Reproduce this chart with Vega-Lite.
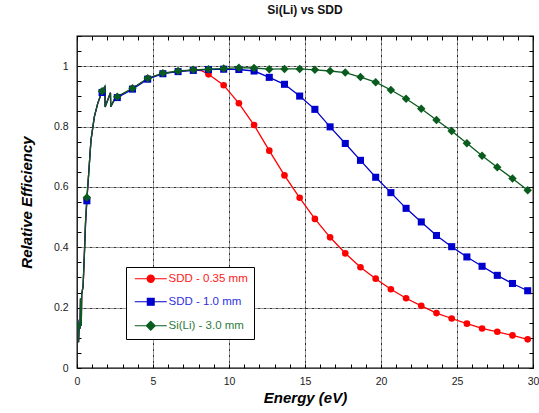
{
  "$schema": "https://vega.github.io/schema/vega-lite/v6.json",
  "width": 456,
  "height": 332,
  "autosize": "none",
  "padding": {"left": 77, "top": 36, "right": 6, "bottom": 45},
  "title": {"text": "Si(Li) vs SDD", "fontSize": 12, "fontWeight": "bold", "font": "Liberation Sans", "offset": 14, "color": "#111"},
  "config": {
    "font": "Liberation Sans",
    "view": {"stroke": "#000", "strokeWidth": 1.3}
  },
  "data": {"values": [
    {"s": "SDD - 0.35 mm", "x": 0.05, "y": 0.16, "m": 0},
    {"s": "SDD - 0.35 mm", "x": 0.1, "y": 0.085, "m": 0},
    {"s": "SDD - 0.35 mm", "x": 0.15, "y": 0.15, "m": 0},
    {"s": "SDD - 0.35 mm", "x": 0.2, "y": 0.13, "m": 0},
    {"s": "SDD - 0.35 mm", "x": 0.23, "y": 0.23, "m": 0},
    {"s": "SDD - 0.35 mm", "x": 0.28, "y": 0.14, "m": 0},
    {"s": "SDD - 0.35 mm", "x": 0.31, "y": 0.245, "m": 0},
    {"s": "SDD - 0.35 mm", "x": 0.4, "y": 0.27, "m": 0},
    {"s": "SDD - 0.35 mm", "x": 0.48, "y": 0.37, "m": 0},
    {"s": "SDD - 0.35 mm", "x": 0.56, "y": 0.48, "m": 0},
    {"s": "SDD - 0.35 mm", "x": 0.65, "y": 0.56, "m": 1},
    {"s": "SDD - 0.35 mm", "x": 0.77, "y": 0.645, "m": 0},
    {"s": "SDD - 0.35 mm", "x": 0.92, "y": 0.755, "m": 0},
    {"s": "SDD - 0.35 mm", "x": 1.14, "y": 0.832, "m": 0},
    {"s": "SDD - 0.35 mm", "x": 1.36, "y": 0.876, "m": 0},
    {"s": "SDD - 0.35 mm", "x": 1.55, "y": 0.903, "m": 0},
    {"s": "SDD - 0.35 mm", "x": 1.65, "y": 0.915, "m": 1},
    {"s": "SDD - 0.35 mm", "x": 1.84, "y": 0.934, "m": 0},
    {"s": "SDD - 0.35 mm", "x": 1.85, "y": 0.865, "m": 0},
    {"s": "SDD - 0.35 mm", "x": 2.2, "y": 0.912, "m": 0},
    {"s": "SDD - 0.35 mm", "x": 2.22, "y": 0.866, "m": 0},
    {"s": "SDD - 0.35 mm", "x": 2.5, "y": 0.893, "m": 0},
    {"s": "SDD - 0.35 mm", "x": 2.65, "y": 0.898, "m": 1},
    {"s": "SDD - 0.35 mm", "x": 3.65, "y": 0.926, "m": 1},
    {"s": "SDD - 0.35 mm", "x": 4.65, "y": 0.959, "m": 1},
    {"s": "SDD - 0.35 mm", "x": 5.65, "y": 0.976, "m": 1},
    {"s": "SDD - 0.35 mm", "x": 6.65, "y": 0.983, "m": 1},
    {"s": "SDD - 0.35 mm", "x": 7.65, "y": 0.987, "m": 1},
    {"s": "SDD - 0.35 mm", "x": 8.2, "y": 0.985, "m": 0},
    {"s": "SDD - 0.35 mm", "x": 8.65, "y": 0.973, "m": 1},
    {"s": "SDD - 0.35 mm", "x": 9.65, "y": 0.937, "m": 1},
    {"s": "SDD - 0.35 mm", "x": 10.65, "y": 0.877, "m": 1},
    {"s": "SDD - 0.35 mm", "x": 11.65, "y": 0.805, "m": 1},
    {"s": "SDD - 0.35 mm", "x": 12.65, "y": 0.72, "m": 1},
    {"s": "SDD - 0.35 mm", "x": 13.65, "y": 0.638, "m": 1},
    {"s": "SDD - 0.35 mm", "x": 14.65, "y": 0.564, "m": 1},
    {"s": "SDD - 0.35 mm", "x": 15.65, "y": 0.494, "m": 1},
    {"s": "SDD - 0.35 mm", "x": 16.65, "y": 0.433, "m": 1},
    {"s": "SDD - 0.35 mm", "x": 17.65, "y": 0.38, "m": 1},
    {"s": "SDD - 0.35 mm", "x": 18.65, "y": 0.334, "m": 1},
    {"s": "SDD - 0.35 mm", "x": 19.65, "y": 0.296, "m": 1},
    {"s": "SDD - 0.35 mm", "x": 20.65, "y": 0.261, "m": 1},
    {"s": "SDD - 0.35 mm", "x": 21.65, "y": 0.231, "m": 1},
    {"s": "SDD - 0.35 mm", "x": 22.65, "y": 0.206, "m": 1},
    {"s": "SDD - 0.35 mm", "x": 23.65, "y": 0.182, "m": 1},
    {"s": "SDD - 0.35 mm", "x": 24.65, "y": 0.164, "m": 1},
    {"s": "SDD - 0.35 mm", "x": 25.65, "y": 0.147, "m": 1},
    {"s": "SDD - 0.35 mm", "x": 26.65, "y": 0.131, "m": 1},
    {"s": "SDD - 0.35 mm", "x": 27.65, "y": 0.12, "m": 1},
    {"s": "SDD - 0.35 mm", "x": 28.65, "y": 0.108, "m": 1},
    {"s": "SDD - 0.35 mm", "x": 29.65, "y": 0.095, "m": 1},

    {"s": "SDD - 1.0 mm", "x": 0.05, "y": 0.16, "m": 0},
    {"s": "SDD - 1.0 mm", "x": 0.1, "y": 0.085, "m": 0},
    {"s": "SDD - 1.0 mm", "x": 0.15, "y": 0.15, "m": 0},
    {"s": "SDD - 1.0 mm", "x": 0.2, "y": 0.13, "m": 0},
    {"s": "SDD - 1.0 mm", "x": 0.23, "y": 0.23, "m": 0},
    {"s": "SDD - 1.0 mm", "x": 0.28, "y": 0.14, "m": 0},
    {"s": "SDD - 1.0 mm", "x": 0.31, "y": 0.245, "m": 0},
    {"s": "SDD - 1.0 mm", "x": 0.4, "y": 0.27, "m": 0},
    {"s": "SDD - 1.0 mm", "x": 0.48, "y": 0.37, "m": 0},
    {"s": "SDD - 1.0 mm", "x": 0.56, "y": 0.475, "m": 0},
    {"s": "SDD - 1.0 mm", "x": 0.65, "y": 0.554, "m": 1},
    {"s": "SDD - 1.0 mm", "x": 0.77, "y": 0.645, "m": 0},
    {"s": "SDD - 1.0 mm", "x": 0.92, "y": 0.755, "m": 0},
    {"s": "SDD - 1.0 mm", "x": 1.14, "y": 0.832, "m": 0},
    {"s": "SDD - 1.0 mm", "x": 1.36, "y": 0.876, "m": 0},
    {"s": "SDD - 1.0 mm", "x": 1.55, "y": 0.903, "m": 0},
    {"s": "SDD - 1.0 mm", "x": 1.65, "y": 0.913, "m": 1},
    {"s": "SDD - 1.0 mm", "x": 1.84, "y": 0.934, "m": 0},
    {"s": "SDD - 1.0 mm", "x": 1.85, "y": 0.865, "m": 0},
    {"s": "SDD - 1.0 mm", "x": 2.2, "y": 0.912, "m": 0},
    {"s": "SDD - 1.0 mm", "x": 2.22, "y": 0.866, "m": 0},
    {"s": "SDD - 1.0 mm", "x": 2.5, "y": 0.893, "m": 0},
    {"s": "SDD - 1.0 mm", "x": 2.65, "y": 0.896, "m": 1},
    {"s": "SDD - 1.0 mm", "x": 3.65, "y": 0.924, "m": 1},
    {"s": "SDD - 1.0 mm", "x": 4.65, "y": 0.957, "m": 1},
    {"s": "SDD - 1.0 mm", "x": 5.65, "y": 0.975, "m": 1},
    {"s": "SDD - 1.0 mm", "x": 6.65, "y": 0.982, "m": 1},
    {"s": "SDD - 1.0 mm", "x": 7.65, "y": 0.986, "m": 1},
    {"s": "SDD - 1.0 mm", "x": 8.65, "y": 0.989, "m": 1},
    {"s": "SDD - 1.0 mm", "x": 9.65, "y": 0.99, "m": 1},
    {"s": "SDD - 1.0 mm", "x": 10.65, "y": 0.989, "m": 1},
    {"s": "SDD - 1.0 mm", "x": 11.65, "y": 0.984, "m": 1},
    {"s": "SDD - 1.0 mm", "x": 12.65, "y": 0.963, "m": 1},
    {"s": "SDD - 1.0 mm", "x": 13.65, "y": 0.94, "m": 1},
    {"s": "SDD - 1.0 mm", "x": 14.65, "y": 0.901, "m": 1},
    {"s": "SDD - 1.0 mm", "x": 15.65, "y": 0.857, "m": 1},
    {"s": "SDD - 1.0 mm", "x": 16.65, "y": 0.799, "m": 1},
    {"s": "SDD - 1.0 mm", "x": 17.65, "y": 0.744, "m": 1},
    {"s": "SDD - 1.0 mm", "x": 18.65, "y": 0.688, "m": 1},
    {"s": "SDD - 1.0 mm", "x": 19.65, "y": 0.632, "m": 1},
    {"s": "SDD - 1.0 mm", "x": 20.65, "y": 0.581, "m": 1},
    {"s": "SDD - 1.0 mm", "x": 21.65, "y": 0.529, "m": 1},
    {"s": "SDD - 1.0 mm", "x": 22.65, "y": 0.484, "m": 1},
    {"s": "SDD - 1.0 mm", "x": 23.65, "y": 0.439, "m": 1},
    {"s": "SDD - 1.0 mm", "x": 24.65, "y": 0.402, "m": 1},
    {"s": "SDD - 1.0 mm", "x": 25.65, "y": 0.368, "m": 1},
    {"s": "SDD - 1.0 mm", "x": 26.65, "y": 0.337, "m": 1},
    {"s": "SDD - 1.0 mm", "x": 27.65, "y": 0.307, "m": 1},
    {"s": "SDD - 1.0 mm", "x": 28.65, "y": 0.28, "m": 1},
    {"s": "SDD - 1.0 mm", "x": 29.65, "y": 0.256, "m": 1},

    {"s": "Si(Li) - 3.0 mm", "x": 0.05, "y": 0.16, "m": 0},
    {"s": "Si(Li) - 3.0 mm", "x": 0.1, "y": 0.085, "m": 0},
    {"s": "Si(Li) - 3.0 mm", "x": 0.15, "y": 0.15, "m": 0},
    {"s": "Si(Li) - 3.0 mm", "x": 0.2, "y": 0.13, "m": 0},
    {"s": "Si(Li) - 3.0 mm", "x": 0.23, "y": 0.23, "m": 0},
    {"s": "Si(Li) - 3.0 mm", "x": 0.28, "y": 0.14, "m": 0},
    {"s": "Si(Li) - 3.0 mm", "x": 0.31, "y": 0.245, "m": 0},
    {"s": "Si(Li) - 3.0 mm", "x": 0.4, "y": 0.27, "m": 0},
    {"s": "Si(Li) - 3.0 mm", "x": 0.48, "y": 0.37, "m": 0},
    {"s": "Si(Li) - 3.0 mm", "x": 0.56, "y": 0.485, "m": 0},
    {"s": "Si(Li) - 3.0 mm", "x": 0.65, "y": 0.565, "m": 1},
    {"s": "Si(Li) - 3.0 mm", "x": 0.77, "y": 0.645, "m": 0},
    {"s": "Si(Li) - 3.0 mm", "x": 0.92, "y": 0.755, "m": 0},
    {"s": "Si(Li) - 3.0 mm", "x": 1.14, "y": 0.832, "m": 0},
    {"s": "Si(Li) - 3.0 mm", "x": 1.36, "y": 0.876, "m": 0},
    {"s": "Si(Li) - 3.0 mm", "x": 1.55, "y": 0.903, "m": 0},
    {"s": "Si(Li) - 3.0 mm", "x": 1.65, "y": 0.917, "m": 1},
    {"s": "Si(Li) - 3.0 mm", "x": 1.84, "y": 0.934, "m": 0},
    {"s": "Si(Li) - 3.0 mm", "x": 1.85, "y": 0.865, "m": 0},
    {"s": "Si(Li) - 3.0 mm", "x": 2.2, "y": 0.912, "m": 0},
    {"s": "Si(Li) - 3.0 mm", "x": 2.22, "y": 0.866, "m": 0},
    {"s": "Si(Li) - 3.0 mm", "x": 2.5, "y": 0.893, "m": 0},
    {"s": "Si(Li) - 3.0 mm", "x": 2.65, "y": 0.899, "m": 1},
    {"s": "Si(Li) - 3.0 mm", "x": 3.65, "y": 0.927, "m": 1},
    {"s": "Si(Li) - 3.0 mm", "x": 4.65, "y": 0.96, "m": 1},
    {"s": "Si(Li) - 3.0 mm", "x": 5.65, "y": 0.977, "m": 1},
    {"s": "Si(Li) - 3.0 mm", "x": 6.65, "y": 0.984, "m": 1},
    {"s": "Si(Li) - 3.0 mm", "x": 7.65, "y": 0.988, "m": 1},
    {"s": "Si(Li) - 3.0 mm", "x": 8.65, "y": 0.99, "m": 1},
    {"s": "Si(Li) - 3.0 mm", "x": 9.65, "y": 0.992, "m": 1},
    {"s": "Si(Li) - 3.0 mm", "x": 10.65, "y": 0.995, "m": 1},
    {"s": "Si(Li) - 3.0 mm", "x": 11.65, "y": 0.994, "m": 1},
    {"s": "Si(Li) - 3.0 mm", "x": 12.65, "y": 0.99, "m": 1},
    {"s": "Si(Li) - 3.0 mm", "x": 13.65, "y": 0.991, "m": 1},
    {"s": "Si(Li) - 3.0 mm", "x": 14.65, "y": 0.991, "m": 1},
    {"s": "Si(Li) - 3.0 mm", "x": 15.65, "y": 0.988, "m": 1},
    {"s": "Si(Li) - 3.0 mm", "x": 16.65, "y": 0.984, "m": 1},
    {"s": "Si(Li) - 3.0 mm", "x": 17.65, "y": 0.979, "m": 1},
    {"s": "Si(Li) - 3.0 mm", "x": 18.65, "y": 0.964, "m": 1},
    {"s": "Si(Li) - 3.0 mm", "x": 19.65, "y": 0.947, "m": 1},
    {"s": "Si(Li) - 3.0 mm", "x": 20.65, "y": 0.921, "m": 1},
    {"s": "Si(Li) - 3.0 mm", "x": 21.65, "y": 0.892, "m": 1},
    {"s": "Si(Li) - 3.0 mm", "x": 22.65, "y": 0.859, "m": 1},
    {"s": "Si(Li) - 3.0 mm", "x": 23.65, "y": 0.822, "m": 1},
    {"s": "Si(Li) - 3.0 mm", "x": 24.65, "y": 0.785, "m": 1},
    {"s": "Si(Li) - 3.0 mm", "x": 25.65, "y": 0.745, "m": 1},
    {"s": "Si(Li) - 3.0 mm", "x": 26.65, "y": 0.703, "m": 1},
    {"s": "Si(Li) - 3.0 mm", "x": 27.65, "y": 0.665, "m": 1},
    {"s": "Si(Li) - 3.0 mm", "x": 28.65, "y": 0.628, "m": 1},
    {"s": "Si(Li) - 3.0 mm", "x": 29.65, "y": 0.589, "m": 1}
  ]},
  "layer": [
    {
      "mark": {"type": "line", "strokeWidth": 1.3},
      "encoding": {
        "x": {
          "field": "x", "type": "quantitative",
          "scale": {"domain": [0, 30], "nice": false, "zero": false},
          "axis": {
            "orient": "bottom",
            "values": [0,1,2,3,4,5,6,7,8,9,10,11,12,13,14,15,16,17,18,19,20,21,22,23,24,25,26,27,28,29,30],
            "tickSize": -4, "tickColor": "#000", "tickWidth": 1,
            "labelExpr": "datum.value % 5 === 0 ? datum.label : ''",
            "labelOverlap": false, "labelFlush": false, "labelBound": false,
            "labelFontSize": 10.5, "labelColor": "#222", "labelPadding": 12,
            "grid": true,
            "gridOpacity": {"condition": {"test": "datum.value % 5 === 0 && datum.value > 0 && datum.value < 30", "value": 1}, "value": 0},
            "gridDash": [3, 1, 1, 1], "gridColor": "#333", "gridWidth": 1,
            "domain": false,
            "title": "Energy (eV)", "titleFontSize": 15, "titleFontWeight": "bold", "titleFontStyle": "italic", "titleColor": "#000", "titlePadding": 4
          }
        },
        "y": {
          "field": "y", "type": "quantitative",
          "scale": {"domain": [0, 1.1], "nice": false, "zero": false},
          "axis": {
            "orient": "left",
            "values": [0,0.05,0.1,0.15,0.2,0.25,0.3,0.35,0.4,0.45,0.5,0.55,0.6,0.65,0.7,0.75,0.8,0.85,0.9,0.95,1,1.05,1.1],
            "tickSize": -4, "tickColor": "#000", "tickWidth": 1,
            "labelExpr": "abs(datum.value*5 - round(datum.value*5)) < 0.001 ? format(datum.value, '~g') : ''",
            "labelOverlap": false, "labelFlush": false, "labelBound": false,
            "labelFontSize": 10.5, "labelColor": "#222", "labelPadding": 13,
            "grid": true,
            "gridOpacity": {"condition": {"test": "abs(datum.value*5 - round(datum.value*5)) < 0.001 && datum.value > 0.01 && datum.value < 1.05", "value": 1}, "value": 0},
            "gridDash": [3, 1, 1, 1], "gridColor": "#333", "gridWidth": 1,
            "domain": false,
            "title": "Relative Efficiency", "titleFontSize": 15, "titleFontWeight": "bold", "titleFontStyle": "italic", "titleColor": "#000", "titlePadding": 19
          }
        },
        "color": {
          "field": "s", "type": "nominal",
          "scale": {"domain": ["SDD - 0.35 mm", "SDD - 1.0 mm", "Si(Li) - 3.0 mm"], "range": ["#ff0000", "#0000cc", "#0a5c1e"]},
          "legend": {
            "title": null, "orient": "none", "legendX": 49, "legendY": 231,
            "strokeColor": "#000", "fillColor": "#fff", "padding": 6,
            "labelFontSize": 11.5, "labelFont": "Liberation Sans",
            "rowPadding": 10, "symbolSize": 64, "symbolOffset": 13, "labelOffset": 12,
            "symbolStrokeWidth": 1.2,
            "encode": {
              "symbols": {"update": {
                "shape": {"signal": "datum.value === 'SDD - 0.35 mm' ? 'M-4,0L4,0M0.9,0A0.9,0.9,0,1,1,-0.9,0A0.9,0.9,0,1,1,0.9,0Z' : datum.value === 'SDD - 1.0 mm' ? 'M-4,0L4,0M-0.85,-0.85L0.85,-0.85L0.85,0.85L-0.85,0.85Z' : 'M-4,0L4,0M0,-1.1L1.1,0L0,1.1L-1.1,0Z'"},
                "fill": {"signal": "datum.value === 'SDD - 0.35 mm' ? '#ff0000' : datum.value === 'SDD - 1.0 mm' ? '#0000cc' : '#0a5c1e'"},
                "stroke": {"signal": "datum.value === 'SDD - 0.35 mm' ? '#ff0000' : datum.value === 'SDD - 1.0 mm' ? '#3030dd' : '#2a6e38'"},
                "strokeWidth": {"value": 1.2},
                "strokeOpacity": {"value": 1},
                "fillOpacity": {"value": 1},
                "opacity": {"value": 1}
              }},
              "labels": {"update": {
                "fill": {"signal": "datum.value === 'SDD - 0.35 mm' ? '#ff2020' : datum.value === 'SDD - 1.0 mm' ? '#3030dd' : '#2e7a3c'"}
              }}
            }
          }
        }
      }
    },
    {
      "transform": [{"filter": "datum.m == 1 && datum.s == 'SDD - 0.35 mm'"}],
      "mark": {"type": "point", "filled": true, "opacity": 1, "shape": "circle", "size": 44},
      "encoding": {
        "x": {"field": "x", "type": "quantitative", "axis": null},
        "y": {"field": "y", "type": "quantitative", "axis": null},
        "color": {"field": "s", "type": "nominal"}
      }
    },
    {
      "transform": [{"filter": "datum.m == 1 && datum.s == 'SDD - 1.0 mm'"}],
      "mark": {"type": "point", "filled": true, "opacity": 1, "shape": "square", "size": 50},
      "encoding": {
        "x": {"field": "x", "type": "quantitative", "axis": null},
        "y": {"field": "y", "type": "quantitative", "axis": null},
        "color": {"field": "s", "type": "nominal"}
      }
    },
    {
      "transform": [{"filter": "datum.m == 1 && datum.s == 'Si(Li) - 3.0 mm'"}],
      "mark": {"type": "point", "filled": true, "opacity": 1, "shape": "diamond", "size": 72},
      "encoding": {
        "x": {
          "field": "x", "type": "quantitative",
          "axis": {
            "orient": "top",
            "values": [0,1,2,3,4,5,6,7,8,9,10,11,12,13,14,15,16,17,18,19,20,21,22,23,24,25,26,27,28,29,30],
            "tickSize": -4, "tickColor": "#000", "labels": false, "domain": false, "grid": false, "title": null
          }
        },
        "y": {
          "field": "y", "type": "quantitative",
          "axis": {
            "orient": "right",
            "values": [0,0.05,0.1,0.15,0.2,0.25,0.3,0.35,0.4,0.45,0.5,0.55,0.6,0.65,0.7,0.75,0.8,0.85,0.9,0.95,1,1.05,1.1],
            "tickSize": -4, "tickColor": "#000", "labels": false, "domain": false, "grid": false, "title": null
          }
        },
        "color": {"field": "s", "type": "nominal"}
      }
    }
  ],
  "resolve": {"axis": {"x": "independent", "y": "independent"}}
}
